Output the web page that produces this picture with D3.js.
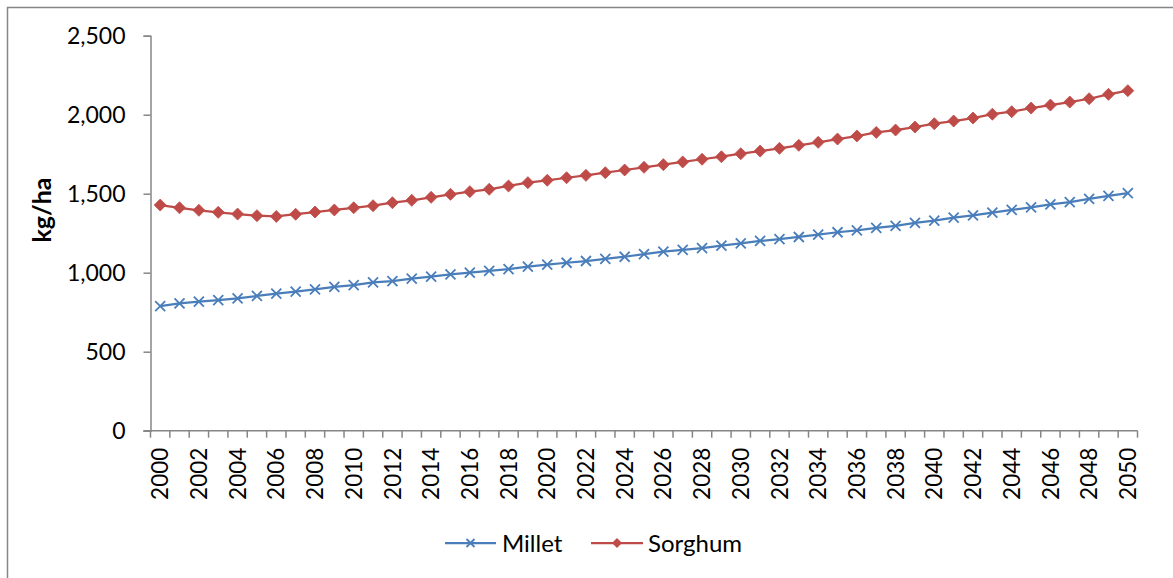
<!DOCTYPE html>
<html>
<head>
<meta charset="utf-8">
<script src="https://cdn.jsdelivr.net/npm/d3@7"></script>
<style>
  body { margin: 0; background: #fff; }
  svg text { font-family: Lato, "Open Sans", sans-serif; fill: #000; }
</style>
</head>
<body>
<div id="plot"></div>
<script>
// Chart data
var years = d3.range(2000, 2051);
var millet = [789, 806, 817, 827, 838, 853, 867, 880, 895, 910,
  922, 939, 947, 962, 975, 990, 1000, 1011, 1023, 1038,
  1051, 1063, 1074, 1087, 1101, 1118, 1133, 1144, 1156, 1171,
  1186, 1201, 1213, 1226, 1241, 1256, 1268, 1283, 1297, 1315,
  1329, 1348, 1363, 1380, 1397, 1414, 1433, 1447, 1467, 1486, 1503];
var sorghum = [1428, 1411, 1395, 1382, 1371, 1361, 1356, 1370, 1384, 1397,
  1411, 1424, 1443, 1458, 1477, 1496, 1513, 1528, 1549, 1570,
  1585, 1601, 1616, 1633, 1650, 1667, 1684, 1701, 1718, 1734,
  1753, 1770, 1787, 1806, 1825, 1846, 1865, 1888, 1903, 1922,
  1943, 1960, 1979, 2003, 2019, 2042, 2061, 2080, 2101, 2129, 2152];
var yTicks = [0, 500, 1000, 1500, 2000, 2500];

var svgWidth = 1173;
var svgHeight = 578;

var svg = d3.select("#plot")
  .append("svg")
  .attr("width", svgWidth)
  .attr("height", svgHeight);

// outer chart border (only left and top show in the picture)
svg.append("rect")
  .attr("x", 7.5).attr("y", 7.5)
  .attr("width", 1180).attr("height", 600)
  .attr("fill", "none")
  .attr("stroke", "#868686")
  .attr("stroke-width", 1.5);

var plotLeft = 150.5, plotRight = 1137.5, plotTop = 35.7, plotBottom = 430.7;

var xScale = d3.scaleBand()
  .domain(years)
  .range([plotLeft, plotRight]);

var yScale = d3.scaleLinear()
  .domain([0, 2500])
  .range([plotBottom, plotTop]);

// y axis
var leftAxis = d3.axisLeft(yScale)
  .tickValues(yTicks)
  .tickSize(7)
  .tickPadding(18)
  .tickFormat(d3.format(","));

var yAxisG = svg.append("g")
  .attr("transform", `translate(${plotLeft}, 0)`)
  .call(leftAxis);
yAxisG.select(".domain").attr("stroke", "#868686").attr("stroke-width", 1.5);
yAxisG.selectAll(".tick line").attr("stroke", "#868686").attr("stroke-width", 1.5);
yAxisG.selectAll("text")
  .style("font-size", "23px")
  .attr("dy", "0.36em");

// x axis: ticks on category boundaries, labels centred in bands
var boundaries = years.map(d => xScale(d)).concat([plotRight]);
var xAxisG = svg.append("g");
xAxisG.append("line")
  .attr("x1", plotLeft - 7).attr("x2", plotRight)
  .attr("y1", plotBottom).attr("y2", plotBottom)
  .attr("stroke", "#868686").attr("stroke-width", 1.5);
xAxisG.selectAll("line.tick")
  .data(boundaries)
  .enter()
  .append("line")
  .attr("class", "tick")
  .attr("x1", d => d).attr("x2", d => d)
  .attr("y1", plotBottom).attr("y2", plotBottom + 7)
  .attr("stroke", "#868686").attr("stroke-width", 1.5);
xAxisG.selectAll("text")
  .data(years.filter(d => d % 2 === 0))
  .enter()
  .append("text")
  .attr("transform", d => `translate(${xScale(d) + xScale.bandwidth() / 2}, ${plotBottom + 17}) rotate(-90)`)
  .attr("text-anchor", "end")
  .attr("dy", "0.36em")
  .style("font-size", "22.5px")
  .text(d => d);

// y axis title
svg.append("text")
  .attr("transform", "translate(42, 210) rotate(-90)")
  .attr("text-anchor", "middle")
  .attr("dy", "0.35em")
  .style("font-size", "25px")
  .style("font-weight", "bold")
  .text("kg/ha");

var cx = (d, i) => xScale(years[i]) + xScale.bandwidth() / 2;
var line = d3.line()
  .x((d, i) => cx(d, i))
  .y(d => yScale(d));

var milletColor = "#4a7ebb";
var sorghumColor = "#be4b48";

// Millet series
svg.append("path")
  .datum(millet)
  .attr("fill", "none")
  .attr("stroke", milletColor)
  .attr("stroke-width", 2.25)
  .attr("d", line);

var crossPath = "M-5,-5L5,5M-5,5L5,-5";
svg.selectAll(".millet-pt")
  .data(millet)
  .enter()
  .append("path")
  .attr("class", "millet-pt")
  .attr("transform", (d, i) => `translate(${cx(d, i)}, ${yScale(d)})`)
  .attr("d", crossPath)
  .attr("stroke", milletColor)
  .attr("stroke-width", 1.8)
  .attr("fill", "none");

// Sorghum series
svg.append("path")
  .datum(sorghum)
  .attr("fill", "none")
  .attr("stroke", sorghumColor)
  .attr("stroke-width", 2.25)
  .attr("d", line);

var diamondPath = "M0,-6L6,0L0,6L-6,0Z";
svg.selectAll(".sorghum-pt")
  .data(sorghum)
  .enter()
  .append("path")
  .attr("class", "sorghum-pt")
  .attr("transform", (d, i) => `translate(${cx(d, i)}, ${yScale(d)})`)
  .attr("d", diamondPath)
  .attr("fill", sorghumColor)
  .attr("stroke", sorghumColor)
  .attr("stroke-width", 0.8);

// Legend
var legendY = 543;
var legend = svg.append("g");
legend.append("line")
  .attr("x1", 445).attr("x2", 496)
  .attr("y1", legendY).attr("y2", legendY)
  .attr("stroke", milletColor).attr("stroke-width", 2.25);
legend.append("path")
  .attr("transform", `translate(470.5, ${legendY})`)
  .attr("d", "M-4,-4L4,4M-4,4L4,-4")
  .attr("stroke", milletColor).attr("stroke-width", 1.8);
legend.append("text")
  .attr("x", 502).attr("y", legendY)
  .attr("dy", "0.36em")
  .style("font-size", "24px")
  .text("Millet");

legend.append("line")
  .attr("x1", 591).attr("x2", 643)
  .attr("y1", legendY).attr("y2", legendY)
  .attr("stroke", sorghumColor).attr("stroke-width", 2.25);
legend.append("path")
  .attr("transform", `translate(617, ${legendY})`)
  .attr("d", "M0,-5L5,0L0,5L-5,0Z")
  .attr("fill", sorghumColor);
legend.append("text")
  .attr("x", 648).attr("y", legendY)
  .attr("dy", "0.36em")
  .style("font-size", "24px")
  .text("Sorghum");
</script>
</body>
</html>
